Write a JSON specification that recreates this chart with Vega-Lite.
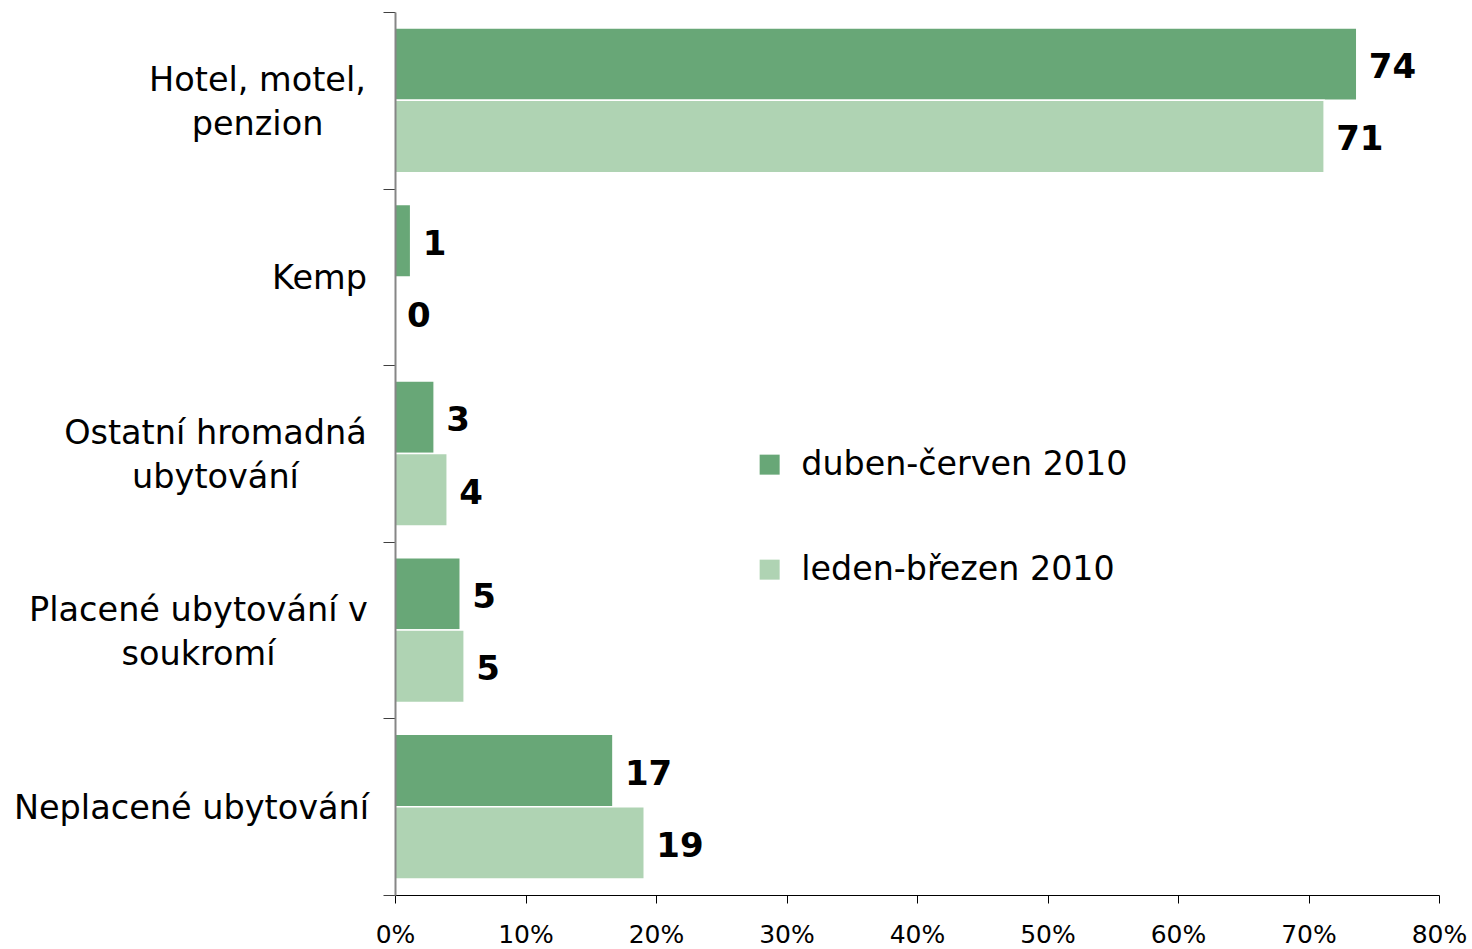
{
  "$schema": "https://vega.github.io/schema/vega-lite/v6.json",
  "width": 1044,
  "height": 883,
  "autosize": {"type": "none"},
  "padding": {"left": 395, "top": 12, "right": 33, "bottom": 54},
  "background": "white",
  "config": {
    "font": "DejaVu Sans",
    "view": {"stroke": null}
  },
  "data": {
    "values": [
      {"kategorie": "Hotel, motel,|penzion", "obdobi": "duben-červen 2010", "podil": 73.7},
      {"kategorie": "Hotel, motel,|penzion", "obdobi": "leden-březen 2010", "podil": 71.2},
      {"kategorie": "Kemp", "obdobi": "duben-červen 2010", "podil": 1.2},
      {"kategorie": "Kemp", "obdobi": "leden-březen 2010", "podil": 0},
      {"kategorie": "Ostatní hromadná|ubytování", "obdobi": "duben-červen 2010", "podil": 3.0},
      {"kategorie": "Ostatní hromadná|ubytování", "obdobi": "leden-březen 2010", "podil": 4.0},
      {"kategorie": "Placené ubytování v|soukromí", "obdobi": "duben-červen 2010", "podil": 5.0},
      {"kategorie": "Placené ubytování v|soukromí", "obdobi": "leden-březen 2010", "podil": 5.3},
      {"kategorie": "Neplacené ubytování", "obdobi": "duben-červen 2010", "podil": 16.7},
      {"kategorie": "Neplacené ubytování", "obdobi": "leden-březen 2010", "podil": 19.1}
    ]
  },
  "encoding": {
    "y": {
      "field": "kategorie",
      "type": "nominal",
      "sort": ["Hotel, motel,|penzion", "Kemp", "Ostatní hromadná|ubytování", "Placené ubytování v|soukromí", "Neplacené ubytování"],
      "scale": {"paddingInner": 0, "paddingOuter": 0},
      "axis": {
        "title": null,
        "zindex": 1,
        "labelExpr": "split(datum.label, '|')",
        "labelFontSize": 33.5,
        "labelColor": "#000000",
        "labelLineHeight": 44,
        "labelAlign": "center",
        "labelBaseline": "middle",
        "labelOffset": {
          "condition": {"test": "datum.value === 'Kemp' || datum.value === 'Neplacené ubytování'", "value": 2},
          "value": -20
        },
        "labelPadding": {
          "condition": [
            {"test": "datum.value === 'Hotel, motel,|penzion'", "value": 126},
            {"test": "datum.value === 'Kemp'", "value": 64},
            {"test": "datum.value === 'Ostatní hromadná|ubytování'", "value": 168},
            {"test": "datum.value === 'Placené ubytování v|soukromí'", "value": 185}
          ],
          "value": 192
        },
        "labelLimit": 500,
        "tickBand": "extent",
        "tickSize": 12,
        "tickColor": "#404040",
        "tickWidth": 1,
        "domainColor": "#868686",
        "domainWidth": 2,
        "grid": false
      }
    },
    "yOffset": {
      "field": "obdobi",
      "type": "nominal",
      "sort": ["duben-červen 2010", "leden-březen 2010"],
      "scale": {"paddingInner": 0, "paddingOuter": 0.22}
    }
  },
  "layer": [
    {
      "mark": {"type": "bar", "stroke": "white", "strokeWidth": 1.5},
      "encoding": {
        "x": {
          "field": "podil",
          "type": "quantitative",
          "scale": {"domain": [0, 80], "nice": false},
          "axis": {
            "title": null,
            "values": [0, 10, 20, 30, 40, 50, 60, 70, 80],
            "labelExpr": "datum.value + '%'",
            "labelFontSize": 25,
            "labelColor": "#000000",
            "labelPadding": 19,
            "tickSize": 8,
            "tickColor": "#000000",
            "domainColor": "#000000",
            "domainWidth": 1,
            "grid": false,
            "labelFlush": false
          }
        },
        "color": {
          "field": "obdobi",
          "type": "nominal",
          "sort": ["duben-červen 2010", "leden-březen 2010"],
          "scale": {"domain": ["duben-červen 2010", "leden-březen 2010"], "range": ["#68a777", "#afd3b3"]},
          "legend": {
            "title": null,
            "orient": "none",
            "legendX": 358,
            "legendY": 436,
            "padding": 0,
            "symbolType": "square",
            "symbolSize": 400,
            "symbolStrokeWidth": 0,
            "labelFontSize": 33.3,
            "labelColor": "#000000",
            "labelOffset": 15,
            "rowPadding": 71,
            "labelLimit": 600
          }
        }
      }
    },
    {
      "mark": {"type": "text", "align": "left", "baseline": "middle", "dx": 12, "dy": 4, "fontSize": 34, "fontWeight": "bold", "color": "#000000"},
      "encoding": {
        "x": {"field": "podil", "type": "quantitative"},
        "text": {"field": "podil", "type": "quantitative", "format": ".0f"}
      }
    }
  ]
}
